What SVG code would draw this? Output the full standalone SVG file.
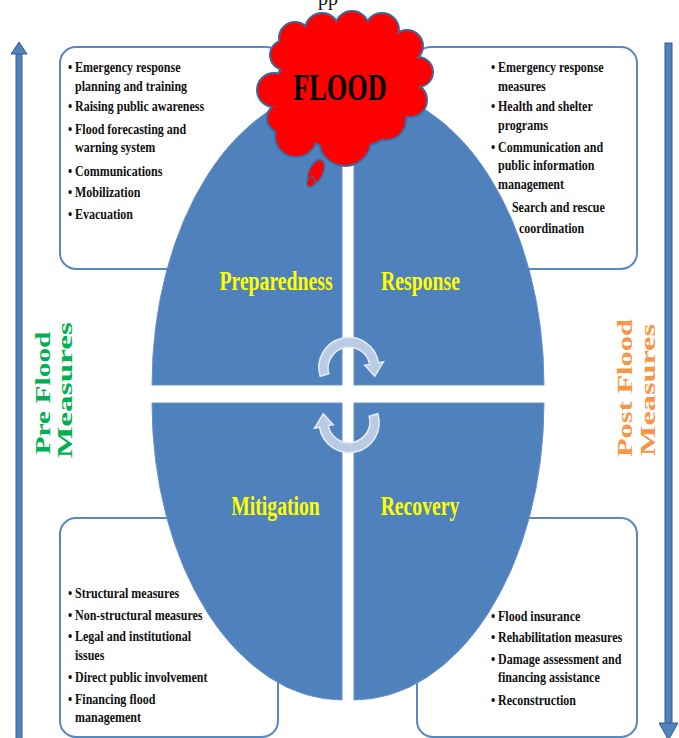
<svg xmlns="http://www.w3.org/2000/svg" xmlns:xlink="http://www.w3.org/1999/xlink" width="679" height="738" viewBox="0 0 679 738">
  <style>
    .box { fill: #ffffff; stroke: #5B87C0; stroke-width: 2; }
    .quad { fill: #4F81BD; stroke: #6A94C9; stroke-width: 1; }
    .item { font-family: "Liberation Serif", "Times New Roman", serif; font-weight: bold; font-size: 15.5px; fill: #111111; }
    .phase { font-family: "Liberation Serif", "Times New Roman", serif; font-weight: bold; font-size: 27px; fill: #FFFF00; text-anchor: middle; }
    .side { font-family: "Liberation Serif", "Times New Roman", serif; font-weight: bold; font-size: 21px; text-anchor: middle; }
    .pre { fill: #00B050; }
    .post { fill: #F79646; }
    .axis { fill: #4F81BD; stroke: #385D8A; stroke-width: 1; }
    .cycle { fill: #B9CCE4; stroke: #E4ECF6; stroke-width: 1.5; }
    .cloud-edge { fill: #41679A; stroke: #41679A; stroke-width: 4; }
    .cloud-fill { fill: #FF0000; stroke: none; }
    .bubble { fill: #FF0000; stroke: #41679A; stroke-width: 1.5; }
  </style>
  <defs>
    <!-- union of lobes forming the flood cloud -->
    <g id="cloudShape">
      <ellipse cx="345" cy="90" rx="68" ry="58"/>
      <circle cx="395" cy="62" r="20"/>
      <circle cx="300" cy="60" r="20"/>
      <circle cx="295" cy="38" r="15"/>
      <circle cx="322" cy="30" r="16"/>
      <circle cx="352" cy="28" r="16"/>
      <circle cx="382" cy="30" r="16"/>
      <circle cx="407" cy="46" r="15"/>
      <circle cx="418" cy="72" r="14"/>
      <circle cx="285" cy="55" r="14"/>
      <circle cx="274" cy="90" r="16"/>
      <circle cx="282" cy="118" r="14"/>
      <circle cx="296" cy="136" r="20"/>
      <circle cx="345" cy="140" r="25"/>
      <circle cx="386" cy="120" r="19"/>
      <circle cx="410" cy="100" r="16"/>
    </g>
    <path id="cycleArrow" d="M320.2,376.3 A30,30 0 1 1 378.5,362.8 L383.5,361.9 L374.7,376.3 L364.8,365.2 L369.7,364.4 A21,21 0 1 0 328.8,373.8 Z"/>
  </defs>

  <!-- caption line above the figure, running off the top edge -->
  <text x="318" y="5" style="font-family: 'Liberation Serif', serif; font-size: 20px; fill: #111;">pp</text>

  <!-- vertical timeline arrows -->
  <g id="pre-flood-axis">
    <rect class="axis" x="16" y="53" width="6" height="690"/>
    <polygon class="axis" points="19,42 11,54 27,54"/>
  </g>
  <g id="post-flood-axis">
    <rect class="axis" x="665" y="43" width="7" height="681"/>
    <polygon class="axis" points="659,723 678,723 668.5,740"/>
  </g>

  <!-- measure boxes -->
  <g id="box-preparedness">
    <rect class="box" x="60" y="47" width="222" height="222" rx="16"/>
    <g transform="translate(75 0) scale(0.775 1)">
      <text class="item" x="-9" y="72">•</text>
      <text class="item" x="0" y="72">Emergency response</text>
      <text class="item" x="0" y="91">planning and training</text>
      <text class="item" x="-9" y="111">•</text>
      <text class="item" x="0" y="111">Raising public awareness</text>
      <text class="item" x="-9" y="134">•</text>
      <text class="item" x="0" y="134">Flood forecasting and</text>
      <text class="item" x="0" y="152">warning system</text>
      <text class="item" x="-9" y="176">•</text>
      <text class="item" x="0" y="176">Communications</text>
      <text class="item" x="-9" y="197">•</text>
      <text class="item" x="0" y="197">Mobilization</text>
      <text class="item" x="-9" y="219">•</text>
      <text class="item" x="0" y="219">Evacuation</text>
    </g>
  </g>
  <g id="box-response">
    <rect class="box" x="415" y="47" width="222" height="222" rx="16"/>
    <g transform="translate(498 0) scale(0.775 1)">
      <text class="item" x="-9" y="72">•</text>
      <text class="item" x="0" y="72">Emergency response</text>
      <text class="item" x="0" y="91">measures</text>
      <text class="item" x="-9" y="111">•</text>
      <text class="item" x="0" y="111">Health and shelter</text>
      <text class="item" x="0" y="130">programs</text>
      <text class="item" x="-9" y="152">•</text>
      <text class="item" x="0" y="152">Communication and</text>
      <text class="item" x="0" y="170">public information</text>
      <text class="item" x="0" y="189">management</text>
      <text class="item" x="18" y="212">Search and rescue</text>
      <text class="item" x="27" y="233">coordination</text>
    </g>
  </g>
  <g id="box-mitigation">
    <rect class="box" x="60" y="518" width="218" height="219" rx="16"/>
    <g transform="translate(75 0) scale(0.775 1)">
      <text class="item" x="-9" y="598">•</text>
      <text class="item" x="0" y="598">Structural measures</text>
      <text class="item" x="-9" y="620">•</text>
      <text class="item" x="0" y="620">Non-structural measures</text>
      <text class="item" x="-9" y="641">•</text>
      <text class="item" x="0" y="641">Legal and institutional</text>
      <text class="item" x="0" y="660">issues</text>
      <text class="item" x="-9" y="682">•</text>
      <text class="item" x="0" y="682">Direct public involvement</text>
      <text class="item" x="-9" y="704">•</text>
      <text class="item" x="0" y="704">Financing flood</text>
      <text class="item" x="0" y="722">management</text>
    </g>
  </g>
  <g id="box-recovery">
    <rect class="box" x="417" y="518" width="220" height="219" rx="16"/>
    <g transform="translate(498 0) scale(0.775 1)">
      <text class="item" x="-9" y="621">•</text>
      <text class="item" x="0" y="621">Flood insurance</text>
      <text class="item" x="-9" y="642">•</text>
      <text class="item" x="0" y="642">Rehabilitation measures</text>
      <text class="item" x="-9" y="664">•</text>
      <text class="item" x="0" y="664">Damage assessment and</text>
      <text class="item" x="0" y="682">financing assistance</text>
      <text class="item" x="-9" y="705">•</text>
      <text class="item" x="0" y="705">Reconstruction</text>
    </g>
  </g>

  <!-- four quarters of the disaster cycle -->
  <g id="quadrant-preparedness">
    <path class="quad" d="M342,385 L152,385 A190,297 0 0 1 342,88 Z"/>
    <text class="phase" transform="translate(276 289.5) scale(0.73 1)">Preparedness</text>
  </g>
  <g id="quadrant-response">
    <path class="quad" d="M354,385 L354,88 A190,297 0 0 1 544,385 Z"/>
    <text class="phase" transform="translate(420.5 289.5) scale(0.73 1)">Response</text>
  </g>
  <g id="quadrant-mitigation">
    <path class="quad" d="M342,403 L152,403 A190,297 0 0 0 342,700 Z"/>
    <text class="phase" transform="translate(275.5 515) scale(0.73 1)">Mitigation</text>
  </g>
  <g id="quadrant-recovery">
    <path class="quad" d="M354,403 L544,403 A190,297 0 0 1 354,700 Z"/>
    <text class="phase" transform="translate(420 515) scale(0.73 1)">Recovery</text>
  </g>

  <!-- cycle arrows between the quarters -->
  <g id="connectors">
    <use xlink:href="#cycleArrow" class="cycle"/>
    <use xlink:href="#cycleArrow" class="cycle" transform="rotate(180 349 395)"/>
  </g>

  <!-- flood cloud -->
  <g id="flood">
    <use xlink:href="#cloudShape" class="cloud-edge"/>
    <use xlink:href="#cloudShape" class="cloud-fill"/>
    <ellipse class="bubble" cx="316" cy="172" rx="7" ry="13" transform="rotate(25 316 172)"/>
    <ellipse class="bubble" cx="311" cy="182" rx="4" ry="5" transform="rotate(25 311 182)"/>
    <text transform="translate(340 100) scale(0.71 1)" style="font-family: 'Liberation Serif', 'Times New Roman', serif; font-weight: bold; font-size: 37px; fill: #000; text-anchor: middle;">FLOOD</text>
  </g>

  <!-- side captions -->
  <g id="label-pre">
    <text class="side pre" transform="translate(50 393) rotate(-90)" textLength="123" lengthAdjust="spacingAndGlyphs">Pre Flood</text>
    <text class="side pre" transform="translate(72 390) rotate(-90)" textLength="136" lengthAdjust="spacingAndGlyphs">Measures</text>
  </g>
  <g id="label-post">
    <text class="side post" transform="translate(632 388) rotate(-90)" textLength="138" lengthAdjust="spacingAndGlyphs">Post Flood</text>
    <text class="side post" transform="translate(655 390) rotate(-90)" textLength="132" lengthAdjust="spacingAndGlyphs">Measures</text>
  </g>
</svg>
